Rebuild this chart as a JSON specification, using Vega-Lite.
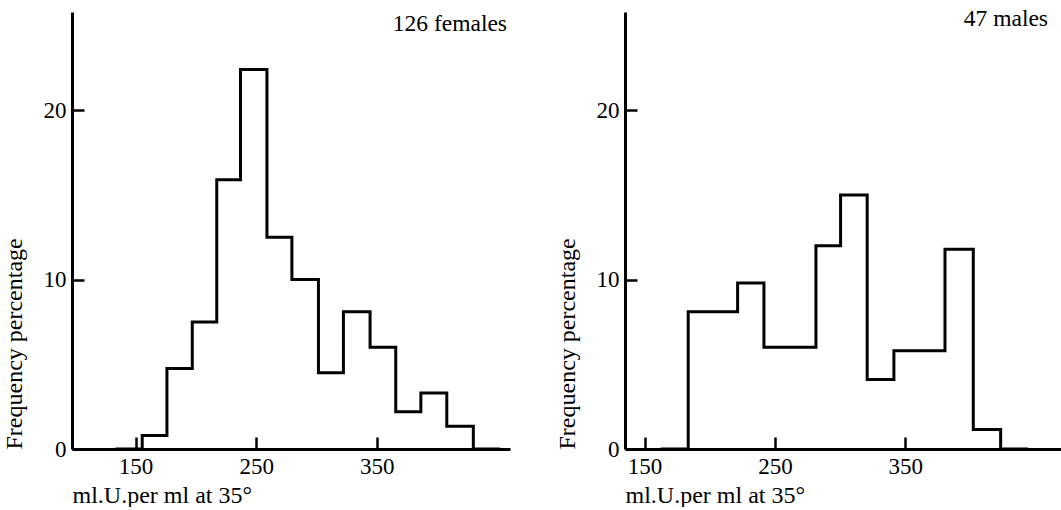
{
  "$schema": "https://vega.github.io/schema/vega-lite/v6.json",
  "autosize": {"type": "pad"},
  "padding": {"left": 2, "top": 7, "right": 0, "bottom": 0},
  "background": "white",
  "datasets": {
    "females": [
      {"bin": 0, "x0": 134.5, "x1": 155.5, "pct": 0},
      {"bin": 1, "x0": 155.5, "x1": 176.0, "pct": 0.8},
      {"bin": 2, "x0": 176.0, "x1": 197.0, "pct": 4.76},
      {"bin": 3, "x0": 197.0, "x1": 217.3, "pct": 7.5},
      {"bin": 4, "x0": 217.3, "x1": 237.0, "pct": 15.9},
      {"bin": 5, "x0": 237.0, "x1": 258.9, "pct": 22.4},
      {"bin": 6, "x0": 258.9, "x1": 279.6, "pct": 12.5},
      {"bin": 7, "x0": 279.6, "x1": 301.6, "pct": 10.0},
      {"bin": 8, "x0": 301.6, "x1": 322.3, "pct": 4.5},
      {"bin": 9, "x0": 322.3, "x1": 344.4, "pct": 8.1},
      {"bin": 10, "x0": 344.4, "x1": 365.7, "pct": 6.0},
      {"bin": 11, "x0": 365.7, "x1": 386.5, "pct": 2.2},
      {"bin": 12, "x0": 386.5, "x1": 408.0, "pct": 3.3},
      {"bin": 13, "x0": 408.0, "x1": 430.0, "pct": 1.35},
      {"bin": 14, "x0": 430.0, "x1": 451.0, "pct": 0}
    ],
    "males": [
      {"bin": 0, "x0": 163.5, "x1": 183.5, "pct": 0},
      {"bin": 1, "x0": 183.5, "x1": 221.4, "pct": 8.1},
      {"bin": 2, "x0": 221.4, "x1": 241.6, "pct": 9.8},
      {"bin": 3, "x0": 241.6, "x1": 281.5, "pct": 6.0},
      {"bin": 4, "x0": 281.5, "x1": 300.4, "pct": 12.0},
      {"bin": 5, "x0": 300.4, "x1": 320.8, "pct": 15.0},
      {"bin": 6, "x0": 320.8, "x1": 341.3, "pct": 4.1},
      {"bin": 7, "x0": 341.3, "x1": 380.5, "pct": 5.8},
      {"bin": 8, "x0": 380.5, "x1": 402.2, "pct": 11.8},
      {"bin": 9, "x0": 402.2, "x1": 423.2, "pct": 1.15},
      {"bin": 10, "x0": 423.2, "x1": 443.2, "pct": 0}
    ]
  },
  "hconcat": [
    {
      "width": 438,
      "height": 437,
      "layer": [
        {
          "data": {"name": "females"},
          "transform": [{"fold": ["x0", "x1"], "as": ["edge", "pos"]}],
          "mark": {"type": "line", "color": "black", "strokeWidth": 3, "strokeJoin": "miter", "strokeCap": "square"},
          "encoding": {
            "x": {"field": "pos", "type": "quantitative", "scale": {"domain": [97.3, 460.4], "nice": false, "zero": false},
                  "axis": {"values": [150, 250, 350], "title": "ml.U.per ml at 35°", "titleAnchor": "start"}},
            "y": {"field": "pct", "type": "quantitative", "scale": {"domain": [0, 25.8], "nice": false},
                  "axis": {"values": [0, 10, 20], "title": "Frequency percentage", "titleAnchor": "start"}},
            "order": [{"field": "bin", "type": "quantitative"}, {"field": "edge", "type": "nominal"}]
          }
        },
        {
          "data": {"values": [{"label": "126 females"}]},
          "mark": {"type": "text", "align": "right", "baseline": "alphabetic", "dx": -3, "dy": 19, "font": "Liberation Serif", "fontSize": 23.5, "color": "black"},
          "encoding": {
            "text": {"field": "label"},
            "x": {"datum": 460.4, "type": "quantitative"},
            "y": {"datum": 25.8, "type": "quantitative"}
          }
        }
      ]
    },
    {
      "width": 436,
      "height": 437,
      "layer": [
        {
          "data": {"name": "males"},
          "transform": [{"fold": ["x0", "x1"], "as": ["edge", "pos"]}],
          "mark": {"type": "line", "color": "black", "strokeWidth": 3, "strokeJoin": "miter", "strokeCap": "square"},
          "encoding": {
            "x": {"field": "pos", "type": "quantitative", "scale": {"domain": [135, 469.5], "nice": false, "zero": false},
                  "axis": {"values": [150, 250, 350], "title": "ml.U.per ml at 35°", "titleAnchor": "start"}},
            "y": {"field": "pct", "type": "quantitative", "scale": {"domain": [0, 25.8], "nice": false},
                  "axis": {"values": [0, 10, 20], "title": "Frequency percentage", "titleAnchor": "start"}},
            "order": [{"field": "bin", "type": "quantitative"}, {"field": "edge", "type": "nominal"}]
          }
        },
        {
          "data": {"values": [{"label": "47 males"}]},
          "mark": {"type": "text", "align": "right", "baseline": "alphabetic", "dx": -13, "dy": 14, "font": "Liberation Serif", "fontSize": 23.5, "color": "black"},
          "encoding": {
            "text": {"field": "label"},
            "x": {"datum": 469.5, "type": "quantitative"},
            "y": {"datum": 25.8, "type": "quantitative"}
          }
        }
      ]
    }
  ],
  "spacing": 115,
  "bounds": "flush",
  "config": {
    "view": {"stroke": null},
    "font": "Liberation Serif",
    "axis": {
      "grid": false,
      "domainColor": "black",
      "domainWidth": 3,
      "tickColor": "black",
      "tickWidth": 2.5,
      "tickSize": -12,
      "labelFont": "Liberation Serif",
      "labelFontSize": 23,
      "labelColor": "black",
      "titleFont": "Liberation Serif",
      "titleFontSize": 24,
      "titleFontWeight": "normal",
      "titleColor": "black"
    },
    "axisX": {"labelPadding": 18, "titlePadding": 5},
    "axisY": {"labelPadding": 18, "titlePadding": 17}
  }
}
